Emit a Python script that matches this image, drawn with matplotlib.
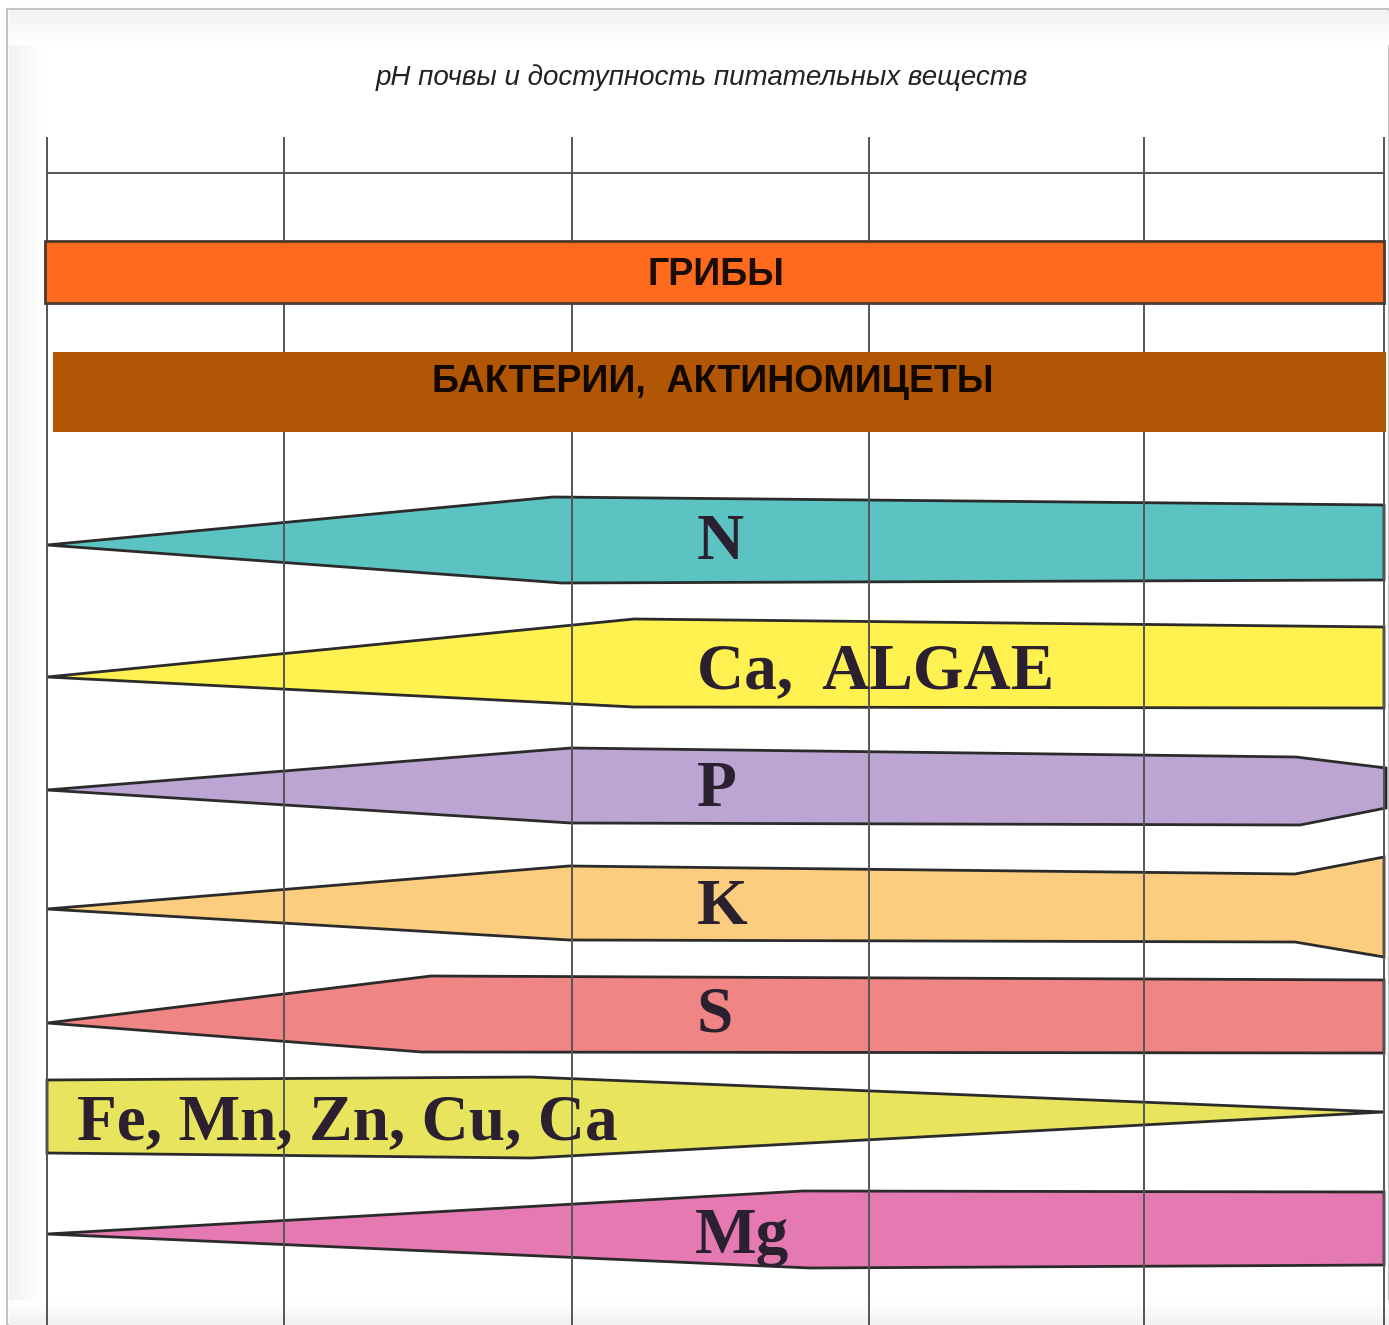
import numpy as np
import matplotlib.pyplot as plt
from matplotlib.patches import Polygon, Rectangle

# Canvas units follow the original picture (x to the right, y downward)
W, H = 1389, 1325

title = 'pH почвы и доступность питательных веществ'

# Grid
grid_x = [47, 284, 572, 869, 1144, 1384]
grid_top = 138
header_y = 173

# Full-width bars (organisms): label, x0, x1, y_top, y_bottom
bar_labels = ['ГРИБЫ', 'БАКТЕРИИ,  АКТИНОМИЦЕТЫ']
bar_x0 = [45, 53]
bar_x1 = [1384, 1386]
bar_top = [241, 352]
bar_bottom = [303, 432]
bar_colors = ['#FF6A1C', '#B05604']
bar_edges = ['#4a3a30', 'none']

# Nutrient bands: upper and lower outline (x, y)
n_top = [(47, 545), (553, 497), (1384, 505)]
n_bot = [(47, 545), (562, 583), (1384, 580)]
ca_top = [(47, 677), (634, 619), (1384, 627)]
ca_bot = [(47, 677), (634, 707), (1384, 708)]
p_top = [(47, 790), (571, 748), (1296, 757), (1386, 768)]
p_bot = [(47, 790), (571, 823), (1300, 825), (1386, 808)]
k_top = [(47, 909), (569, 866), (1295, 874), (1384, 857)]
k_bot = [(47, 909), (569, 940), (1295, 942), (1384, 957)]
s_top = [(47, 1023), (431, 976), (1384, 980)]
s_bot = [(47, 1023), (422, 1052), (1384, 1053)]
fe_top = [(47, 1080), (531, 1077), (1384, 1112)]
fe_bot = [(47, 1153), (531, 1158), (1384, 1112)]
mg_top = [(47, 1234), (803, 1191), (1384, 1192)]
mg_bot = [(47, 1234), (810, 1268), (1384, 1265)]

band_tops = [n_top, ca_top, p_top, k_top, s_top, fe_top, mg_top]
band_bots = [n_bot, ca_bot, p_bot, k_bot, s_bot, fe_bot, mg_bot]
band_labels = ['N', 'Ca,  ALGAE', 'P', 'K', 'S', 'Fe, Mn, Zn, Cu, Ca', 'Mg']
band_colors = ['#5BC3C1', '#FFF150', '#BDA5D3', '#FCCD7E', '#F08585',
               '#E8E45E', '#E57AB3']
# label anchor (left x, baseline y)
label_x = [697, 697, 697, 697, 697, 77, 695]
label_y = [559, 688, 806, 924, 1032, 1139, 1253]

fig = plt.figure(figsize=(W / 100, H / 100), dpi=100)
ax = fig.add_axes([0, 0, 1, 1])
ax.set_xlim(0, W)
ax.set_ylim(H, 0)
ax.axis('off')

# soft frame: thin grey border plus faint inner shadow on left, top, bottom
ax.add_patch(Rectangle((7, 9), W - 7, H - 9, fill=False,
                       edgecolor='#c4c4c4', linewidth=1.5, zorder=0))
ramp = np.linspace(1, 0, 64)
ax.imshow(ramp[None, :], extent=(9, 44, H, 11), cmap='Greys', vmin=0,
          vmax=9, alpha=1, aspect='auto', zorder=0)
ax.imshow(ramp[:, None], extent=(9, W, 45, 11), cmap='Greys', vmin=0,
          vmax=9, alpha=1, aspect='auto', zorder=0)
ax.imshow(ramp[::-1][:, None], extent=(9, W, H, 1300), cmap='Greys', vmin=0,
          vmax=9, alpha=1, aspect='auto', zorder=0)
ax.set_xlim(0, W)
ax.set_ylim(H, 0)

ax.text(702, 85, title, ha='center', va='baseline', fontsize=20,
        style='italic', family=['Liberation Sans', 'DejaVu Sans'],
        color='#222222')

# grid lines
for gx in grid_x:
    ax.plot([gx, gx], [grid_top, H], color='#555555', lw=1.4, zorder=2)
ax.plot([grid_x[0], grid_x[-1]], [header_y, header_y],
        color='#555555', lw=1.4, zorder=2)

# organism bars (drawn over the grid)
for lab, x0, x1, yt, yb, c, ec in zip(bar_labels, bar_x0, bar_x1, bar_top,
                                      bar_bottom, bar_colors, bar_edges):
    ax.add_patch(Rectangle((x0, yt), x1 - x0, yb - yt, facecolor=c,
                           edgecolor=ec, linewidth=2, zorder=3))
ax.text(716, 285, bar_labels[0], ha='center', va='baseline', fontsize=27,
        fontweight='bold', family='Liberation Sans', color='#1a0d05', zorder=4)
ax.text(713, 392, bar_labels[1], ha='center', va='baseline', fontsize=27,
        fontweight='bold', family='Liberation Sans', color='#120800', zorder=4)

# nutrient bands (grid shows through)
for top, bot, c in zip(band_tops, band_bots, band_colors):
    pts = list(top) + list(reversed(bot))
    ax.add_patch(Polygon(pts, closed=True, facecolor=c, edgecolor='#2b2b2b',
                         linewidth=2, joinstyle='miter', zorder=1))

for lab, lx, ly in zip(band_labels, label_x, label_y):
    ax.text(lx, ly, lab, ha='left', va='baseline', fontsize=47,
            fontweight='bold', family='Liberation Serif', color='#2a2030',
            zorder=5)

fig.savefig('out.png', dpi=100, facecolor='white')
